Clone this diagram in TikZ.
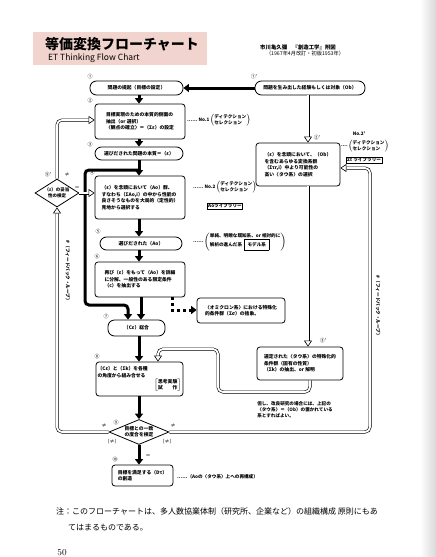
\documentclass[tikz,border=0pt]{standalone}
\usepackage{fontspec}
\newfontfamily\cjk{Noto Sans CJK JP}
\usetikzlibrary{arrows.meta,shapes.geometric,positioning}
\definecolor{titlepink}{RGB}{242,212,206}
\newcommand{\sidebrace}[1]{$\left(\vcenter{\hbox{\begin{tabular}{@{}l@{}}#1\end{tabular}}}\right)$}
\newcommand{\sidebrack}[1]{$\left[\vcenter{\hbox{\begin{tabular}{@{}l@{}}#1\end{tabular}}}\right]$}

\begin{document}
\begin{tikzpicture}[x=1pt, y=-1pt,
    flowbox/.style={draw, line width=0.8pt, rounded corners=3pt, inner sep=1.5pt,
      font=\cjk\bfseries\fontsize{4.8}{6.6}\selectfont, align=left},
    pillbox/.style={flowbox, rounded corners=6.5pt, align=center},
    testbox/.style={draw, diamond, line width=0.8pt, inner sep=-2pt, align=center,
      font=\cjk\bfseries\fontsize{4.8}{6.2}\selectfont},
    steplabel/.style={font=\cjk\fontsize{5}{6}\selectfont, inner sep=0pt},
    sidenote/.style={font=\cjk\bfseries\fontsize{4.6}{5.8}\selectfont, inner sep=0pt, align=left},
    libbox/.style={draw, line width=0.6pt, inner sep=1pt, font=\cjk\bfseries\fontsize{4.6}{5.6}\selectfont},
    mainarrow/.style={line width=3pt, rounded corners=4pt, -{Triangle[length=5.5pt,width=8pt]}},
    dotarrow/.style={line width=3pt, dash pattern=on 3pt off 3pt, -{Triangle[length=5.5pt,width=8pt]}},
    dblarrow/.style={double, double distance=1.8pt, line width=0.6pt, rounded corners=5pt,
      -{Triangle[open,length=6pt,width=8pt]}},
  ]
  \useasboundingbox (0,0) rectangle (436,557);
  \shade[left color=white, right color=gray!30] (420,0) rectangle (436,557);

  % title
  \fill[titlepink] (33,32) rectangle (207,65);
  \node[font=\cjk\bfseries\fontsize{14}{16}\selectfont, inner sep=0pt] (title) at (122,44) {等価変換フローチャート};
  \node[font=\cjk\fontsize{8.5}{10}\selectfont, inner sep=0pt, anchor=west] (subtitle) at (48,58) {ET Thinking Flow Chart};
  \node[font=\cjk\bfseries\fontsize{5.4}{6}\selectfont, inner sep=0pt] (author) at (298,47) {市川亀久彌\quad『創造工学』附図};
  \node[font=\cjk\fontsize{5.2}{6}\selectfont, inner sep=0pt] (edition) at (305,54) {（1967年4月改訂・初版1953年）};

  % main column
  \node[pillbox, minimum width=93pt, minimum height=14pt] (b1) at (136.5,88) {問題の提起（目標の設定）};
  \node[pillbox, minimum width=110pt, minimum height=14pt] (b1p) at (310,88) {問題を生み出した経験もしくは対象（Ob）};
  \node[flowbox, minimum width=90pt, minimum height=35pt] (b2) at (140,121.5)
    {目標実現のための本質的側面の\\抽出（or 選択）\\〈観点の確立〉＝（Σε）の設定};
  \node[pillbox, minimum width=88pt, minimum height=13pt] (b3) at (139,153.5) {選びだされた問題の本質＝（ε）};
  \node[flowbox, minimum width=90pt, minimum height=43pt] (b4) at (140,197.5)
    {（ε）を念頭において（Ao）群、\\すなわち（ΣAo,i）の中から性能の\\良さそうなものを大局的（定性的）\\見地から選択する};
  \node[pillbox, minimum width=82pt, minimum height=13pt] (b5) at (141,243.5) {選びだされた（Ao）};
  \node[flowbox, minimum width=90pt, minimum height=35pt] (b6) at (140,279.5)
    {再び（ε）をもって（Ao）を詳細\\に分解、一般性のある限定条件\\（c）を抽出する};
  \node[pillbox, minimum width=57pt, minimum height=16pt] (b7) at (136.5,328) {（Cε）総合};
  \node[flowbox, text width=84pt, minimum height=34pt] (b8) at (139.5,379)
    {〔Cε〕と（Σk）を各種\\の角度から組み合せる\\\hspace*{\fill}\sidebrack{思考実験\\試\hfill 作}};
  \node[testbox, aspect=2.4, minimum width=60pt, minimum height=25pt] (d9) at (139,432) {目標との一致\\の度合を検定};
  \node[flowbox, minimum width=61pt, minimum height=21pt] (b10) at (142.5,475.5) {目標を満足する（Dτ）\\の創造};
  \node[testbox, aspect=1.57, minimum width=44pt, minimum height=28pt,
    font=\cjk\bfseries\fontsize{4.5}{5.8}\selectfont] (d9p) at (57,193) {（ε）の妥当\\性の検定};

  % right column
  \node[flowbox, minimum width=84pt, minimum height=43pt] (b2p) at (298,164.5)
    {（ε）を念頭において、（Ob）\\を含むあらゆる変換系群\\（Στr,i）中より可能性の\\高い〈タウ系〉の選択};
  \node[flowbox, minimum width=86pt, minimum height=33pt] (b3p) at (300,363.5)
    {選定された〈タウ系〉の特殊化的\\条件群（固有の性質）\\（Σk）の抽出、or 解明};
  \node[flowbox, minimum width=88pt, minimum height=25pt] (bomi) at (241,310.5)
    {〈オミクロン系〉における特殊化\\的条件群（Σσ）の捨象。};

  % step numbers
  \node[steplabel] (n1) at (90,77) {①};
  \node[steplabel] (n1p) at (254,77) {①'};
  \node[steplabel] (n2) at (90,101) {②};
  \node[steplabel] (n3) at (90,145) {③};
  \node[steplabel] (n4) at (92,173) {④};
  \node[steplabel] (n5) at (98,232) {⑤};
  \node[steplabel] (n6) at (97,257) {⑥};
  \node[steplabel] (n7) at (106,317) {⑦};
  \node[steplabel] (n8) at (97,357) {⑧};
  \node[steplabel] (n9) at (116,423) {⑨};
  \node[steplabel] (n10) at (115,460) {⑩};
  \node[steplabel] (n2p) at (317,138) {②'};
  \node[steplabel] (n3p) at (323,341) {③'};
  \node[steplabel] (n9p) at (48,175) {⑨'};

  % marks at the tests
  \node[steplabel] (m9p) at (67,175) {≠};
  \node[steplabel] (e9p) at (77,188) {＝};
  \node[steplabel] (m9l) at (104,426) {≠};
  \node[steplabel] (m9r) at (173,426) {≠};
  \node[steplabel] (p9l) at (112,442) {（≠）};
  \node[steplabel] (p9r) at (167,442) {（≠）};
  \node[steplabel] (e9) at (148,456) {＝};

  % side notes
  \node[sidenote, anchor=west] (no1) at (187,120) {……\ No.1};
  \node[sidenote, right=0pt of no1] (no1t) {\sidebrace{ディテクション\\セレクション}};
  \node[sidenote, anchor=west] (no2) at (193,187) {……\ No.2};
  \node[sidenote, right=0pt of no2] (no2t) {\sidebrace{ディテクション\\セレクション}};
  \node[libbox] (aolib) at (225,206) {Aoライブラリー};
  \node[sidenote] (no2p) at (359,134) {No.2'};
  \node[sidenote, anchor=west] (no2pd) at (341,146) {....};
  \node[sidenote, right=0pt of no2pd] (no2pt) {\sidebrace{ディテクション\\セレクション}};
  \node[libbox] (taulib) at (364,160) {Στ ライブラリー};
  \node[sidenote, anchor=west] (mdl) at (193,242) {……};
  \node[sidenote, right=0pt of mdl] (mdlt) {\sidebrace{単純、明瞭な既知系、or 相対的に\\解析の進んだ系\ \ \fbox{モデル系}}};
  \node[sidenote, anchor=west] (b10note) at (177,477) {……（Aoの〈タウ系〉上への再構成）};
  \node[sidenote] (kainote) at (295,410) {但し、改良研究の場合には、上記の\\〈タウ系〉＝（Ob）の置かれている\\系とすればよい。};
  \node[sidenote, rotate=-90] (loopl) at (68,272) {\#（フィードバック・ループ）};
  \node[sidenote, rotate=-90] (loopr) at (378,307) {\#（フィードバック・ループ）};

  % footnote
  \node[font=\cjk\fontsize{8}{16}\selectfont, inner sep=0pt, anchor=north west, align=left] (note) at (56,507)
    {注：このフローチャートは、多人数協業体制（研究所、企業など）の組織構成 原則にもあ\\\hspace*{12pt}てはまるものである。};
  \node[font=\fontsize{9}{10}\selectfont, inner sep=0pt] (pagenum) at (62,553) {50};

  % connectors
  \coordinate (ax) at (139,0);
  \coordinate (vx) at (308,0);
  \coordinate (split) at (139,170);
  \coordinate (lc) at (85,305);
  \coordinate (in7) at (128,305);
  \coordinate (ax2) at (141,0);
  \coordinate (dt) at (172,310);
  \coordinate (q1) at (310,392);
  \coordinate (q2) at (218,349);
  \coordinate (in8) at (158,0);
  \coordinate (rc) at (370,168);
  \coordinate (lx) at (57,0);
  \coordinate (tc) at (57,120);

  \draw[mainarrow] (b1p.west) -- (b1.east);
  \draw[mainarrow] (b1.south -| ax) -- (b2.north -| ax);
  \draw[mainarrow] (b2.south -| ax) -- (b3.north -| ax);
  \draw[mainarrow] (b3.south -| ax) -- (b4.north -| ax);
  \draw[mainarrow] (split) -- (split -| lc) -- (lc) -- (in7) -- (b7.north -| in7);
  \draw[mainarrow] (b4.south -| ax) -- (b5.north -| ax);
  \draw[mainarrow] (b5.south -| ax) -- (b6.north -| ax);
  \draw[mainarrow] (b6.south -| ax2) -- (b7.north -| ax2);
  \draw[dotarrow] (b6.south -| dt) -- (dt) -- (bomi.west |- dt);
  \draw[mainarrow] (b7.south -| ax) -- (b8.north -| ax);
  \draw[mainarrow] (b8.south -| ax) -- (d9.north);
  \draw[mainarrow] (d9.south) -- (b10.north -| d9.south);

  \draw[dblarrow] (b1p.south -| vx) -- (b2p.north -| vx);
  \draw[dblarrow] (b2p.south -| vx) -- (b3p.north -| vx);
  \draw[dblarrow] (b3p.south -| q1) -- (q1) -- (q1 -| q2) -- (q2) -- (q2 -| in8) -- (b8.north -| in8);
  \draw[dblarrow] (d9.east) -- (d9.east -| rc) -- (rc) -- (b2p.east |- rc);
  \draw[dblarrow] (d9.west) -- (d9.west -| lx) -- (d9p.south);
  \draw[dblarrow] (d9p.east) -- (b4.west |- d9p.east);
  \draw[dblarrow] (d9p.north) -- (tc) -- (b2.west |- tc);
\end{tikzpicture}
\end{document}
